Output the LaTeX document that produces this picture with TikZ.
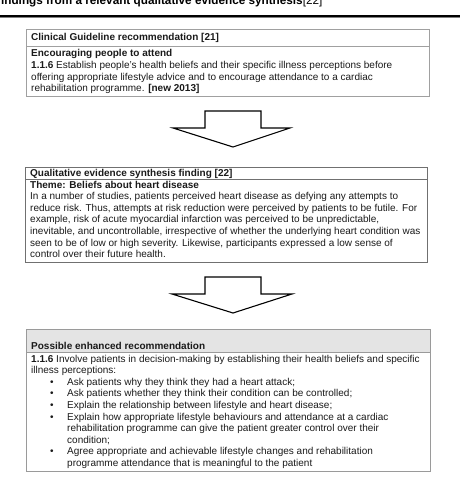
\documentclass[tikz,border=0pt]{standalone}
\usepackage{fontspec}
\setmainfont{Liberation Sans}
\definecolor{bordA}{HTML}{A0A0A0}
\definecolor{bordB}{HTML}{707070}
\definecolor{bordC}{HTML}{9A9A9A}
\definecolor{headfill}{HTML}{E4E4E4}
\definecolor{ink}{HTML}{1A1A1A}
\begin{document}
\begin{tikzpicture}[x=1pt,y=-1pt,
  txt/.style={anchor=base west, inner sep=0pt, text=ink, font=\fontsize{10}{11.6}\selectfont},
  btxt/.style={txt, font=\bfseries\fontsize{10}{11.6}\selectfont},
  blockarrow/.style={draw=black, fill=white, line width=1.1pt, line join=miter}]
\useasboundingbox (0,0) rectangle (460,484);
% title and rule
\node[anchor=base west, inner sep=0pt, font=\fontsize{11.75}{14}\selectfont] (title) at (-3,5) {\textbf{findings from a relevant qualitative evidence synthesis}[22]};
\draw[line width=1.8pt] (0,16) -- (460,16);
\draw[line width=0.6pt, gray] (0,17.6) -- (460,17.6);

% box 1
\draw[bordA, line width=0.8pt] (26,29) rectangle (429,96);
\draw[bordA, line width=0.8pt] (26,46) -- (429,46);
\node[btxt] (b1h) at (31,41) {Clinical Guideline recommendation [21]};
\node[btxt] (b1t) at (31,57) {Encouraging people to attend};
\foreach \t [count=\i] in {{\textbf{1.1.6} Establish people's health beliefs and their specific illness perceptions before},
 {offering appropriate lifestyle advice and to encourage attendance to a cardiac},
 {rehabilitation programme. \textbf{[new 2013]}}}
  \node[txt] (b1l\i) at (31,57+11.6*\i) {\t};

% arrow 1
\draw[blockarrow] (205,111) -- (261,111) -- (261,128) -- (290,128) -- (233,147) -- (173,128) -- (205,128) -- cycle;

% box 2
\draw[bordB, line width=0.8pt] (25,167) rectangle (427,262);
\draw[bordB, line width=0.8pt] (25,179) -- (427,179);
\node[btxt] (b2h) at (30,176) {Qualitative evidence synthesis finding [22]};
\node[btxt] (b2t) at (30,188) {Theme: Beliefs about heart disease};
\foreach \t [count=\i] in {{In a number of studies, patients perceived heart disease as defying any attempts to},
 {reduce risk. Thus, attempts at risk reduction were perceived by patients to be futile. For},
 {example, risk of acute myocardial infarction was perceived to be unpredictable,},
 {inevitable, and uncontrollable, irrespective of whether the underlying heart condition was},
 {seen to be of low or high severity. Likewise, participants expressed a low sense of},
 {control over their future health.}}
  \node[txt] (b2l\i) at (30,188+11.6*\i) {\t};

% arrow 2
\draw[blockarrow] (205,277) -- (261,277) -- (261,294) -- (292,294) -- (233,313) -- (172,294) -- (205,294) -- cycle;

% box 3
\fill[headfill] (26,329) rectangle (430,352);
\draw[bordC, line width=0.8pt] (26,329) rectangle (430,471);
\draw[bordC, line width=0.8pt] (26,352) -- (430,352);
\node[btxt] (b3h) at (31,349) {Possible enhanced recommendation};
\foreach \t [count=\i] in {{\textbf{1.1.6} Involve patients in decision-making by establishing their health beliefs and specific},
 {illness perceptions:}}
  \node[txt] (b3l\i) at (31,350.4+11.6*\i) {\t};
\foreach \t/\b [count=\i] in {{Ask patients why they think they had a heart attack;}/1,
 {Ask patients whether they think their condition can be controlled;}/1,
 {Explain the relationship between lifestyle and heart disease;}/1,
 {Explain how appropriate lifestyle behaviours and attendance at a cardiac}/1,
 {rehabilitation programme can give the patient greater control over their}/0,
 {condition;}/0,
 {Agree appropriate and achievable lifestyle changes and rehabilitation}/1,
 {programme attendance that is meaningful to the patient}/0}
{
  \node[txt] (b3i\i) at (67,373.6+11.6*\i) {\t};
  \ifnum\b=1 \node[txt, font=\fontsize{10}{11.6}\selectfont] (b3d\i) at (50,373.6+11.6*\i) {\textbullet}; \fi
}
\end{tikzpicture}
\end{document}
